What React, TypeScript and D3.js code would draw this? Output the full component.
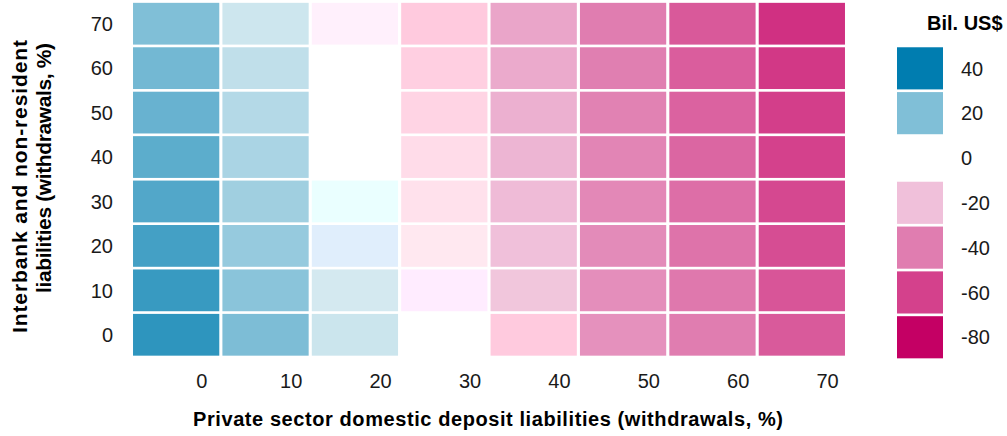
import * as d3 from 'd3';
import { type FC } from 'react';

// withdrawal shares (%)
const xCats: number[] = [0, 10, 20, 30, 40, 50, 60, 70];
const yCats: number[] = [0, 10, 20, 30, 40, 50, 60, 70];

// values in bil. US$, one array per x column, ordered y = 0..70
const col0: number[] = [32.8, 31.3, 29.4, 27.2, 25.6, 23.8, 22, 20];
const col10: number[] = [20.5, 18.4, 16.5, 15, 13.4, 11.8, 10, 7.9];
const col20: number[] = [8.2, 6.8, 4.9, 3.3, 0, 0, 0, -2];
const col30: number[] = [0, -6, -7.3, -9.5, -11, -13.3, -15, -16.5];
const col40: number[] = [-16.5, -18, -20, -21.5, -23.3, -24.8, -26.6, -28];
const col50: number[] = [-34, -35, -35.7, -36.6, -37.7, -38.5, -39.4, -40];
const col60: number[] = [-40, -41.7, -43.3, -45, -47.7, -49, -50.7, -52];
const col70: number[] = [-51.7, -53.3, -56, -57.7, -60, -61, -62.8, -65.2];
const columns: number[][] = [col0, col10, col20, col30, col40, col50, col60, col70];

const legendValues: number[] = [40, 20, 0, -20, -40, -60, -80];

// colour ramp (value -> colour)
const rampValues: number[] = [-80, -60, -40, -20, -18, -16.5, -7.3, -6, -2, 0, 3.3, 4.9, 6.8, 20, 40];
const rampColors: string[] = [
  '#c40064', '#d4418c', '#e07db0', '#f0c0da', '#f1c6dc', '#ffcade', '#ffe8f0', '#ffecff', '#fff0fc',
  '#ffffff', '#eaffff', '#e0eefc', '#d4e9f0', '#80bfd7', '#007db0',
];

const W = 1007;
const H = 436;
const font = "'Liberation Sans', Arial, sans-serif";

const App: FC = () => {
  const x = d3.scaleBand<number>().domain(xCats).range([131.5, 846.5]).paddingInner(0.035).paddingOuter(0.017);
  const y = d3.scaleBand<number>().domain([...yCats].reverse()).range([1.5, 357]).paddingInner(0.06).paddingOuter(0.03);
  const color = d3.scaleLinear<string>().domain(rampValues).range(rampColors).interpolate(d3.interpolateRgb).clamp(true);

  const cells = columns.flatMap((col, i) => col.map((v, j) => ({ xv: xCats[i], yv: yCats[j], v })));

  // legend rows share the heatmap row grid (one step down)
  const legY = d3.scaleBand<number>().domain(legendValues).range([y(60)!, y(60)! + y.step() * 7]).paddingInner(0.06);

  return (
    <svg width={W} height={H} style={{ position: 'absolute', left: 0, top: 0 }} fontFamily={font}>
      <rect width={W} height={H} fill='#fff' />
      <g>
        {cells.map((c, i) => (
          <rect key={i} x={x(c.xv)} y={y(c.yv)} width={x.bandwidth()} height={y.bandwidth()} fill={color(c.v)} />
        ))}
      </g>
      <g fontSize={20} fill='#1a1a1a'>
        {yCats.map((v) => (
          <text key={v} x={113} y={y(v)! + y.bandwidth() / 2} dy='0.36em' textAnchor='end'>
            {v}
          </text>
        ))}
        {xCats.map((v) => (
          <text key={v} x={x(v)! + x.step() * 0.77} y={388} textAnchor='middle'>
            {v}
          </text>
        ))}
      </g>
      <g fontSize={20} fontWeight='bold' fill='#000'>
        <text x={488} y={426} textAnchor='middle' textLength={590} lengthAdjust='spacing'>
          Private sector domestic deposit liabilities (withdrawals, %)
        </text>
        <g fontSize={21}>
          <text transform='translate(27,40) rotate(-90)' textAnchor='end' textLength={293} lengthAdjust='spacing'>
            Interbank and non-resident
          </text>
          <text transform='translate(51,43) rotate(-90)' textAnchor='end' textLength={250} lengthAdjust='spacing'>
            liabilities (withdrawals, %)
          </text>
        </g>
        <text x={927} y={30}>
          Bil. US$
        </text>
      </g>
      <g>
        {legendValues.map((v) => (
          <g key={v}>
            <rect x={897} y={legY(v)} width={46} height={legY.bandwidth()} fill={color(v)} />
            <text x={961} y={legY(v)! + legY.bandwidth() / 2} dy='0.36em' fontSize={20} fill='#1a1a1a'>
              {v}
            </text>
          </g>
        ))}
      </g>
    </svg>
  );
};

export default App;
